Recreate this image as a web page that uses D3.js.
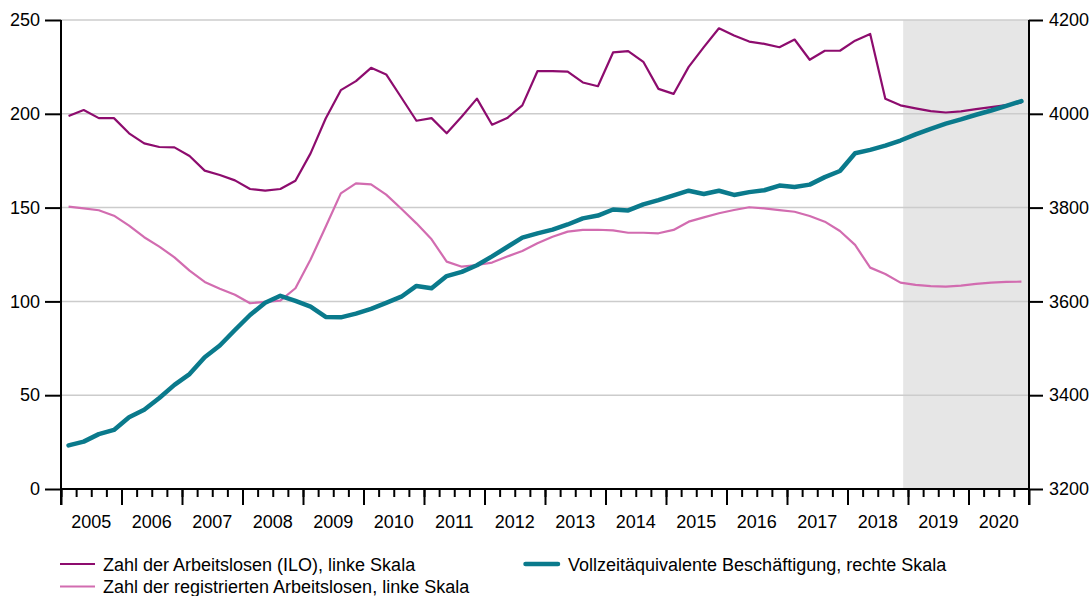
<!DOCTYPE html>
<html>
<head>
<meta charset="utf-8">
<script src="https://cdn.jsdelivr.net/npm/d3@7"></script>
<style>
  body { margin: 0; background: #fff; }
  svg { display: block; font-family: "Liberation Sans", Arial, sans-serif; }
</style>
</head>
<body>
<svg></svg>
<script>
// Daten: Quartale 2005 Q1 bis 2020 Q4
const years = d3.range(2005, 2021);
const quarters = years.flatMap(y => [1, 2, 3, 4].map(q => `${y}Q${q}`));

// Zahl der Arbeitslosen (ILO), Tausend
const iloValues = [
  198.8, 202.0, 197.7, 197.7, 189.6, 184.2, 182.3, 182.1,
  177.5, 169.7, 167.4, 164.5, 159.9, 159.0, 159.9, 164.3,
  178.9, 197.5, 212.6, 217.4, 224.5, 221.0, 208.7, 196.3,
  197.7, 189.6, 198.6, 208.1, 194.2, 197.7, 204.5, 222.7,
  222.7, 222.5, 216.7, 214.7, 232.7, 233.4, 227.7, 213.3,
  210.6, 225.0, 235.5, 245.6, 241.7, 238.5, 237.3, 235.5,
  239.6, 228.8, 233.6, 233.6, 239.0, 242.6, 208.0, 204.5,
  202.9, 201.4, 200.7, 201.3, 202.5, 203.6, 204.6, 206.0
];

// Zahl der registrierten Arbeitslosen, Tausend
const registeredValues = [
  150.5, 149.6, 148.6, 145.7, 140.4, 134.2, 129.2, 123.5,
  116.4, 110.4, 106.8, 103.5, 99.0, 99.7, 100.4, 107.0,
  122.3, 139.8, 157.6, 162.9, 162.4, 156.9, 149.4, 141.6,
  133.1, 121.2, 118.5, 119.4, 120.7, 123.9, 126.9, 131.0,
  134.5, 137.2, 138.1, 138.2, 137.9, 136.6, 136.6, 136.3,
  138.1, 142.5, 144.8, 147.0, 148.7, 150.2, 149.6, 148.7,
  147.8, 145.5, 142.5, 137.5, 130.1, 118.0, 114.6, 110.0,
  108.8, 108.1, 107.9, 108.4, 109.3, 110.0, 110.4, 110.5
];

// Vollzeitäquivalente Beschäftigung, Tausend
const fteValues = [
  3293, 3301, 3317, 3326, 3353, 3369, 3394, 3422,
  3445, 3481, 3506, 3539, 3571, 3597, 3612, 3601,
  3589, 3567, 3566, 3574, 3584, 3597, 3610, 3633,
  3628, 3654, 3663, 3677, 3696, 3716, 3736, 3745,
  3753, 3764, 3777, 3783, 3796, 3794, 3807, 3816,
  3826, 3836, 3829, 3836, 3827, 3833, 3837, 3847,
  3844, 3849, 3865, 3878, 3916, 3923, 3932, 3943,
  3956, 3968, 3979, 3988, 3998, 4007, 4017, 4027
];

const leftTicks = [0, 50, 100, 150, 200, 250];
const rightTicks = [3200, 3400, 3600, 3800, 4000, 4200];
const forecastStart = 2018.92;

const legendItems = [
  { label: "Zahl der Arbeitslosen (ILO), linke Skala", color: "#8d0c6e", width: 2.2, col: 0, row: 0 },
  { label: "Zahl der registrierten Arbeitslosen, linke Skala", color: "#d26cb0", width: 2.2, col: 0, row: 1 },
  { label: "Vollzeitäquivalente Beschäftigung, rechte Skala", color: "#0a7a8c", width: 4.5, col: 1, row: 0 }
];

const width = 1092, height = 596;
const margin = { top: 20, right: 63, bottom: 107, left: 61 };
const innerW = width - margin.left - margin.right;
const innerH = height - margin.top - margin.bottom;

const svg = d3.select("svg").attr("width", width).attr("height", height);
const g = svg.append("g").attr("transform", `translate(${margin.left},${margin.top})`);

// Quartal -> Zeitpunkt in der Mitte des Quartals
const qTime = s => +s.slice(0, 4) + (+s.slice(5) - 0.5) / 4;

const x = d3.scaleLinear().domain([2005, 2021]).range([0, innerW]);
const yLeft = d3.scaleLinear().domain([0, 250]).range([innerH, 0]);
const yRight = d3.scaleLinear().domain([3200, 4200]).range([innerH, 0]);

// Prognosebereich
g.append("rect")
  .attr("x", x(forecastStart))
  .attr("y", 0)
  .attr("width", x(2021) - x(forecastStart))
  .attr("height", innerH)
  .attr("fill", "#e6e6e6");

// Gitternetz
g.selectAll(".grid").data(leftTicks.slice(1)).enter()
  .append("line")
  .attr("x1", 0).attr("x2", innerW)
  .attr("y1", d => yLeft(d)).attr("y2", d => yLeft(d))
  .attr("stroke", "#cccccc").attr("stroke-width", 1.5);

// Linien
const lineLeft = d3.line().x((d, i) => x(qTime(quarters[i]))).y(d => yLeft(d));
const lineRight = d3.line().x((d, i) => x(qTime(quarters[i]))).y(d => yRight(d));

g.append("path").datum(registeredValues)
  .attr("d", lineLeft).attr("fill", "none")
  .attr("stroke", legendItems[1].color).attr("stroke-width", 2.2).attr("stroke-linejoin", "round");

g.append("path").datum(iloValues)
  .attr("d", lineLeft).attr("fill", "none")
  .attr("stroke", legendItems[0].color).attr("stroke-width", 2.2).attr("stroke-linejoin", "round");

g.append("path").datum(fteValues)
  .attr("d", lineRight).attr("fill", "none")
  .attr("stroke", legendItems[2].color).attr("stroke-width", 4.5)
  .attr("stroke-linejoin", "round").attr("stroke-linecap", "round");

// Achsen
const styleAxis = sel => {
  sel.select(".domain").remove();
  sel.selectAll("line").attr("stroke", "#000").attr("stroke-width", 2);
  sel.selectAll("text").attr("fill", "#000");
};

const leftAxis = g.append("g")
  .call(d3.axisLeft(yLeft).tickValues(leftTicks).tickSize(16).tickPadding(5))
  .attr("font-size", 18).attr("font-family", null);
styleAxis(leftAxis);

const rightAxis = g.append("g").attr("transform", `translate(${innerW},0)`)
  .call(d3.axisRight(yRight).tickValues(rightTicks).tickSize(14).tickPadding(6).tickFormat(d3.format("d")))
  .attr("font-size", 18).attr("font-family", null);
styleAxis(rightAxis);

const minorAxis = g.append("g").attr("transform", `translate(0,${innerH})`)
  .call(d3.axisBottom(x).tickValues(quarters.map(q => qTime(q) - 0.125)).tickSize(8).tickFormat(""));
styleAxis(minorAxis);

const majorAxis = g.append("g").attr("transform", `translate(0,${innerH})`)
  .call(d3.axisBottom(x).tickValues(d3.range(2005, 2022)).tickSize(16).tickFormat(""));
styleAxis(majorAxis);

// vertikale und horizontale Achsenlinien
g.append("line").attr("x1", 0).attr("x2", 0).attr("y1", 0).attr("y2", innerH + 16)
  .attr("stroke", "#000").attr("stroke-width", 2);
g.append("line").attr("x1", innerW).attr("x2", innerW).attr("y1", 0).attr("y2", innerH + 16)
  .attr("stroke", "#000").attr("stroke-width", 2);
g.append("line").attr("x1", 0).attr("x2", innerW).attr("y1", innerH).attr("y2", innerH)
  .attr("stroke", "#000").attr("stroke-width", 2);

// Jahreszahlen
g.selectAll(".year").data(years).enter()
  .append("text")
  .attr("x", d => x(d + 0.5))
  .attr("y", innerH + 39)
  .attr("text-anchor", "middle")
  .attr("font-size", 18)
  .attr("fill", "#000")
  .text(d => d);

// Legende
const legend = svg.append("g");
const colX = [60, 524];
const rowY = [564, 586.5];
legendItems.forEach(item => {
  const lg = legend.append("g")
    .attr("transform", `translate(${colX[item.col]},${rowY[item.row]})`);
  lg.append("line")
    .attr("x1", item.col === 0 ? 0 : 1.5).attr("x2", item.col === 0 ? 35 : 34)
    .attr("y1", 0).attr("y2", 0)
    .attr("stroke", item.color).attr("stroke-width", item.width)
    .attr("stroke-linecap", item.col === 0 ? "butt" : "round");
  lg.append("text")
    .attr("x", item.col === 0 ? 43 : 44)
    .attr("y", 6.5)
    .attr("font-size", 18)
    .attr("fill", "#000")
    .text(item.label);
});
</script>
</body>
</html>
